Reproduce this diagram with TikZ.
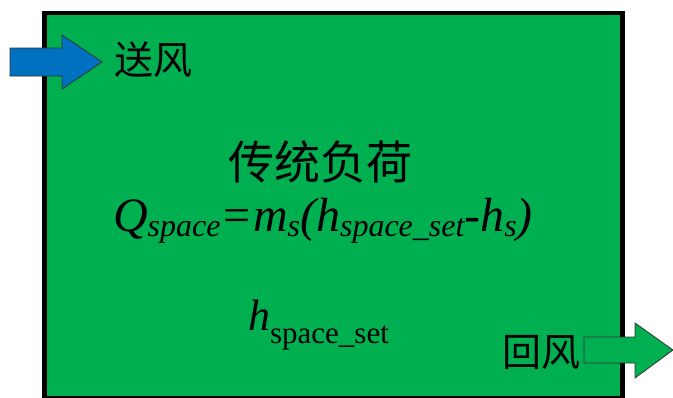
\documentclass[tikz,border=0pt]{standalone}
\usepackage{fontspec}
\setmainfont{Liberation Serif}
\newfontfamily\cjk{Noto Sans CJK SC}
\definecolor{boxgreen}{HTML}{00B050}
\definecolor{airblue}{HTML}{0070C0}
\newcommand\sbs[2][-5pt]{\raisebox{#1}{\fontsize{32}{32}\selectfont #2}}
\begin{document}
\begin{tikzpicture}[x=1pt,y=-1pt,
  room/.style={draw=black,line width=4.5pt,fill=boxgreen},
  airarrow/.style={draw=black!80,line width=0.8pt,line join=miter},
  cjklabel/.style={inner sep=0pt,font=\cjk\fontsize{39}{39}\selectfont},
  titlelabel/.style={inner sep=0pt,font=\cjk\fontsize{46}{46}\selectfont},
  formula/.style={inner sep=0pt,anchor=base}]
\useasboundingbox (0,0) rectangle (673,397);
\begin{scope}
\clip (0,0) rectangle (673,397);
\draw[room] (44.5,13) rectangle (622.5,398.5);
\draw[airarrow,fill=airblue] (10,48) -- (62,48) -- (62,35) -- (102,62) -- (62,89) -- (62,76) -- (10,76) -- cycle;
\draw[airarrow,fill=boxgreen] (584,337) -- (635,337) -- (635,323) -- (673,350) -- (635,378) -- (635,363) -- (584,363) -- cycle;
\end{scope}
\node[cjklabel] (supply) at (153,60) {送风};
\node[cjklabel] (ret) at (541,352) {回风};
\node[titlelabel] (title) at (320,162) {传统负荷};
\node[formula] (eq) at (323,231) {\fontsize{48}{50}\selectfont\itshape Q\sbs{space}=m\sbs{s}(h\sbs{space\_set}-h\sbs{s})};
\node[formula] (hset) at (318.5,330) {{\fontsize{44}{44}\selectfont\itshape h}\raisebox{-13pt}{\fontsize{31}{31}\selectfont space\_set}};
\end{tikzpicture}
\end{document}
